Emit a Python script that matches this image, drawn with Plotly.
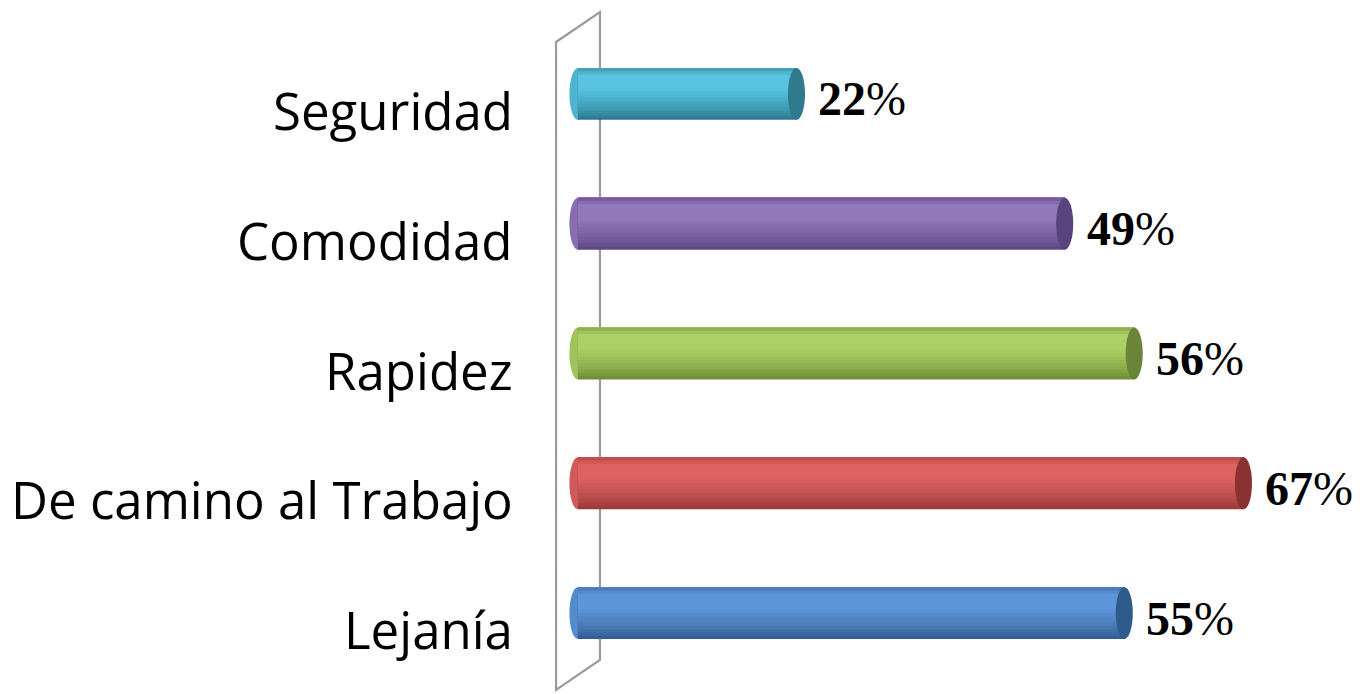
import plotly.graph_objects as go

categories = ["Lejanía", "De camino al Trabajo", "Rapidez", "Comodidad", "Seguridad"]
values = [55, 67, 56, 49, 22]

# colour anchors per category (bottom shade, centre highlight, top edge, end cap)
bottom_colors = ["#2e578b", "#933535", "#67862f", "#57417c", "#287287"]
light_colors = ["#5d96da", "#dd6262", "#add065", "#9078bb", "#57c3e0"]
top_colors = ["#4475b3", "#b84848", "#86a84a", "#6e559a", "#3d97b0"]
cap_colors = ["#2f5a8c", "#8a3232", "#6a853a", "#5a4480", "#2f7a8c"]

def hex2rgb(h):
    h = h.lstrip("#")
    return tuple(int(h[i:i + 2], 16) for i in (0, 2, 4))

def mix(a, b, t):
    ra, rb = hex2rgb(a), hex2rgb(b)
    return "rgb(%d,%d,%d)" % tuple(round(ra[k] + (rb[k] - ra[k]) * t) for k in range(3))

def shade(i, t):
    # t: 0 = bottom edge, 1 = top edge of the cylinder
    if t < 0.6:
        return mix(bottom_colors[i], light_colors[i], (t / 0.6) ** 0.7)
    if t < 0.86:
        return light_colors[i]
    return mix(light_colors[i], top_colors[i], (t - 0.86) / 0.14)

fig = go.Figure()

half = 0.20
n_bands = 16
band = 2 * half / n_bands
for b in range(n_bands):
    t = (b + 0.5) / n_bands
    start = -half + b * band
    fig.add_trace(go.Bar(
        x=values, y=categories, orientation="h",
        offset=start, width=half - start,
        marker=dict(color=[shade(i, t) for i in range(len(categories))], line=dict(width=0)),
        hoverinfo="skip", showlegend=False,
    ))

shapes = []
# back wall (3D frame)
shapes.append(dict(
    type="path", xref="paper", yref="paper",
    path="M 0.4018 0.980 L 0.4340 1.026 L 0.4340 0.0277 L 0.4018 -0.0185 Z",
    line=dict(color="#9a9a9a", width=2.2), fillcolor="rgba(0,0,0,0)", layer="below",
))
cap_w = 0.86
for i, (c, v) in enumerate(zip(categories, values)):
    # rounded left end
    shapes.append(dict(
        type="circle", xref="x", yref="y",
        x0=-cap_w, x1=cap_w, y0=i - half, y1=i + half,
        fillcolor=shade(i, 0.45), line=dict(width=0), layer="below",
    ))
    # darker right end cap
    shapes.append(dict(
        type="circle", xref="x", yref="y",
        x0=v - cap_w, x1=v + cap_w, y0=i - half, y1=i + half,
        fillcolor=cap_colors[i], line=dict(width=0), layer="above",
    ))

annotations = []
for i, (c, v) in enumerate(zip(categories, values)):
    annotations.append(dict(
        x=507 / 1364, xref="paper", y=c, yref="y", xanchor="right", yanchor="middle",
        text=c, showarrow=False, yshift=-16,
        font=dict(family="Open Sans", size=51, color="#000000"),
    ))
    annotations.append(dict(
        x=v, xref="x", y=c, yref="y", xanchor="left", yanchor="middle",
        text=f"<b>{v}</b>%", showarrow=False, xshift=20, yshift=-5,
        font=dict(family="Liberation Serif", size=48, color="#000000"),
    ))

fig.update_layout(
    width=1364, height=694,
    margin=dict(l=0, r=0, t=21, b=24),
    paper_bgcolor="white", plot_bgcolor="white",
    barmode="overlay",
    xaxis=dict(range=[-57.38, 79.94], visible=False, fixedrange=True),
    yaxis=dict(categoryorder="array", categoryarray=categories, range=[-0.5, 4.5],
               visible=False, fixedrange=True),
    shapes=shapes, annotations=annotations,
    showlegend=False,
)

fig.write_html("out.html")
